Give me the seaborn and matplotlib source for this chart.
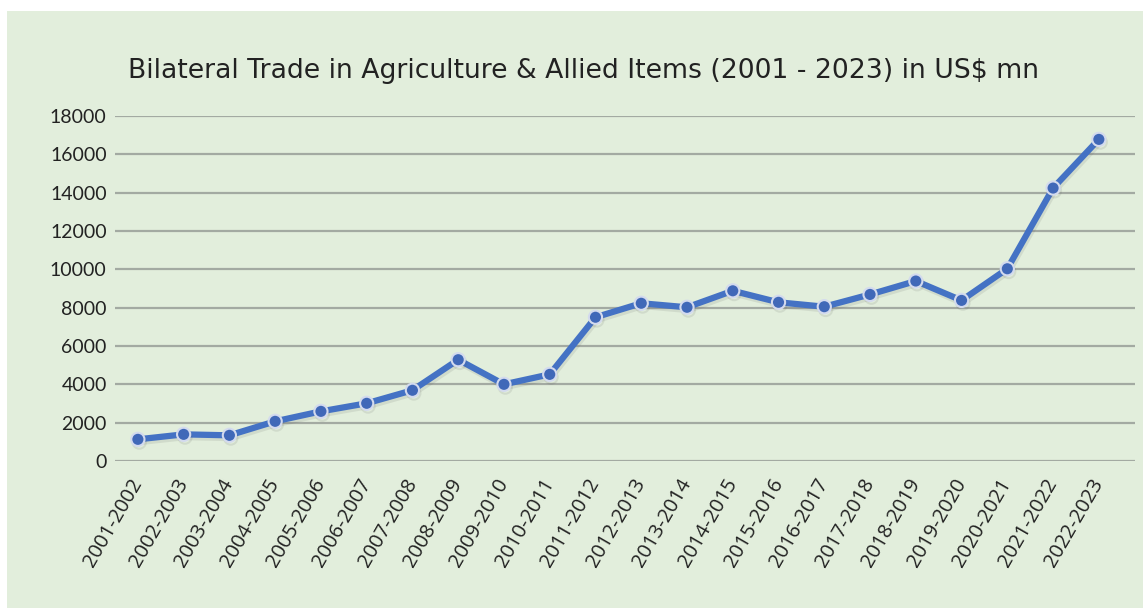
import matplotlib
matplotlib.use("Agg")
import matplotlib.pyplot as plt
import matplotlib.patheffects as pe
from matplotlib.patches import Rectangle
import seaborn as sns
import pandas as pd

years = ["2001-2002", "2002-2003", "2003-2004", "2004-2005", "2005-2006", "2006-2007",
         "2007-2008", "2008-2009", "2009-2010", "2010-2011", "2011-2012", "2012-2013",
         "2013-2014", "2014-2015", "2015-2016", "2016-2017", "2017-2018", "2018-2019",
         "2019-2020", "2020-2021", "2021-2022", "2022-2023"]
trade = [1130, 1390, 1340, 2070, 2590, 3010, 3690, 5285, 4000, 4520, 7500, 8230,
         8020, 8880, 8280, 8050, 8690, 9390, 8380, 10030, 14240, 16780]
yticks = [0, 2000, 4000, 6000, 8000, 10000, 12000, 14000, 16000, 18000]
title = "Bilateral Trade in Agriculture & Allied Items (2001 - 2023) in US$ mn"

df = pd.DataFrame({"year": years, "trade": trade})
df["x"] = range(len(years))

sns.set_theme(style="white")
plt.rcParams["font.family"] = ["Lato", "DejaVu Sans"]

BG = "#E2EEDC"
fig = plt.figure(figsize=(11.43, 6.08), dpi=100)
fig.patch.set_facecolor("white")
fig.patches.append(Rectangle((7 / 1143, 0), 1, (608 - 11) / 608, transform=fig.transFigure,
                             facecolor=BG, edgecolor="none", zorder=-5))

ax = fig.add_axes([115 / 1143, (608 - 461) / 608, (1135 - 115) / 1143, (461 - 116) / 608])
ax.set_zorder(2)
ax.set_facecolor(BG)

for y in yticks:
    ax.axhline(y, color="#A3AAA2", lw=1.6, zorder=1)

sns.lineplot(data=df, x="x", y="trade", ax=ax, color="#4472C4", lw=4.5, zorder=3,
             marker="o", markersize=9.5, markerfacecolor="#4068B8",
             markeredgecolor="#D3DAEE", markeredgewidth=1.5,
             path_effects=[pe.SimpleLineShadow(offset=(1, -2), alpha=0.12, shadow_color="#555555"),
                           pe.Normal()])

ax.set_xlim(-0.5, 21.79)
ax.set_ylim(0, 18000)
ax.set_yticks(yticks)
ax.set_yticklabels([str(v) for v in yticks], fontsize=14, color="#222222")
ax.set_xticks(df["x"])
ax.set_xticklabels(years, rotation=60, ha="right", va="center", rotation_mode="anchor",
                   fontsize=14.5, color="#222222", family=["Open Sans", "DejaVu Sans"])
ax.tick_params(axis="x", pad=14, length=0)
ax.tick_params(axis="y", pad=6, length=0)
ax.set_xlabel("")
ax.set_ylabel("")
for s in ax.spines.values():
    s.set_visible(False)

fig.text(583 / 1143, (608 - 71) / 608, title, ha="center", va="center",
         fontsize=19.2, color="#222222", family=["DejaVu Sans"])

fig.savefig("out.png", dpi=100, facecolor=fig.get_facecolor())
